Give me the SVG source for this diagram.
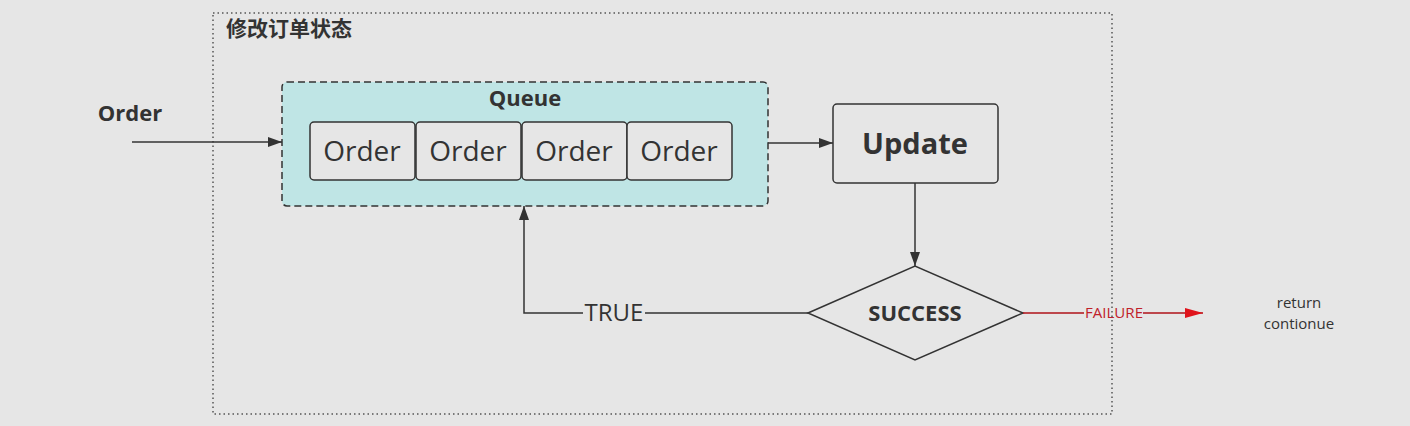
<svg xmlns="http://www.w3.org/2000/svg" width="1410" height="426" viewBox="0 0 1410 426">
<style>
.t{font-family:"Open Sans","Noto Sans","Noto Sans CJK SC",sans-serif;fill:#333}
.b{font-weight:bold}
.box{fill:#e6e6e6;stroke:#333;stroke-width:1.5}
.ln{fill:none;stroke:#333;stroke-width:1.5}
</style>
<defs>
<marker id="ah" markerWidth="14" markerHeight="10" refX="14" refY="5" orient="auto" markerUnits="userSpaceOnUse"><path d="M0,0L14,5L0,10z" fill="#333"/></marker>
<marker id="ahr" markerWidth="18" markerHeight="10" refX="18" refY="5" orient="auto" markerUnits="userSpaceOnUse"><path d="M0,0L18,5L0,10z" fill="#e0141c"/></marker>
</defs>
<rect width="1410" height="426" fill="#e6e6e6"/>
<g id="frame">
<rect x="213" y="13" width="899" height="401" fill="none" stroke="#555" stroke-width="1.5" stroke-dasharray="1.5 3"/>
<text class="t b" x="226" y="36" font-size="21">修改订单状态</text>
</g>
<g id="order-in"><text class="t b" x="130" y="121" font-size="22" text-anchor="middle">Order</text></g>
<g id="queue">
<rect x="282" y="82" width="486" height="124" rx="5" fill="#bfe5e5" stroke="#333" stroke-width="1.5" stroke-dasharray="7 4"/>
<text class="t b" x="525" y="106" font-size="22" text-anchor="middle">Queue</text>
</g>
<g id="order1"><rect class="box" x="310" y="122" width="105" height="58" rx="4"/><text class="t" x="362" y="161" font-size="28" text-anchor="middle">Order</text></g>
<g id="order2"><rect class="box" x="416" y="122" width="105" height="58" rx="4"/><text class="t" x="468" y="161" font-size="28" text-anchor="middle">Order</text></g>
<g id="order3"><rect class="box" x="522" y="122" width="105" height="58" rx="4"/><text class="t" x="574" y="161" font-size="28" text-anchor="middle">Order</text></g>
<g id="order4"><rect class="box" x="627" y="122" width="105" height="58" rx="4"/><text class="t" x="679" y="161" font-size="28" text-anchor="middle">Order</text></g>
<g id="update"><rect class="box" x="833" y="104" width="165" height="79" rx="4"/><text class="t b" x="915" y="154" font-size="29" text-anchor="middle">Update</text></g>
<g id="success"><path class="box" d="M808,313L915,266L1023,313L915,360z"/><text class="t b" x="915" y="321" font-size="22" text-anchor="middle">SUCCESS</text></g>
<g id="result"><text class="t" x="1299" y="308" font-size="15" text-anchor="middle">return</text><text class="t" x="1299" y="329" font-size="15" text-anchor="middle">contionue</text></g>
<g id="connectors">
<path class="ln" d="M132,142H282" marker-end="url(#ah)"/>
<path class="ln" d="M768,143H833" marker-end="url(#ah)"/>
<path class="ln" d="M915,183V266" marker-end="url(#ah)"/>
<path class="ln" d="M808,313H645M583,313H524V206" marker-end="url(#ah)"/>
<text class="t" x="614" y="321" font-size="24" text-anchor="middle">TRUE</text>
<path d="M1023,313H1084M1143,313H1203" fill="none" stroke="#b0131a" stroke-width="1.5" marker-end="url(#ahr)"/>
<text x="1114" y="318" font-size="15" text-anchor="middle" font-family="Open Sans,sans-serif" fill="#c0202a" textLength="58" lengthAdjust="spacingAndGlyphs">FAILURE</text>
</g>
</svg>
